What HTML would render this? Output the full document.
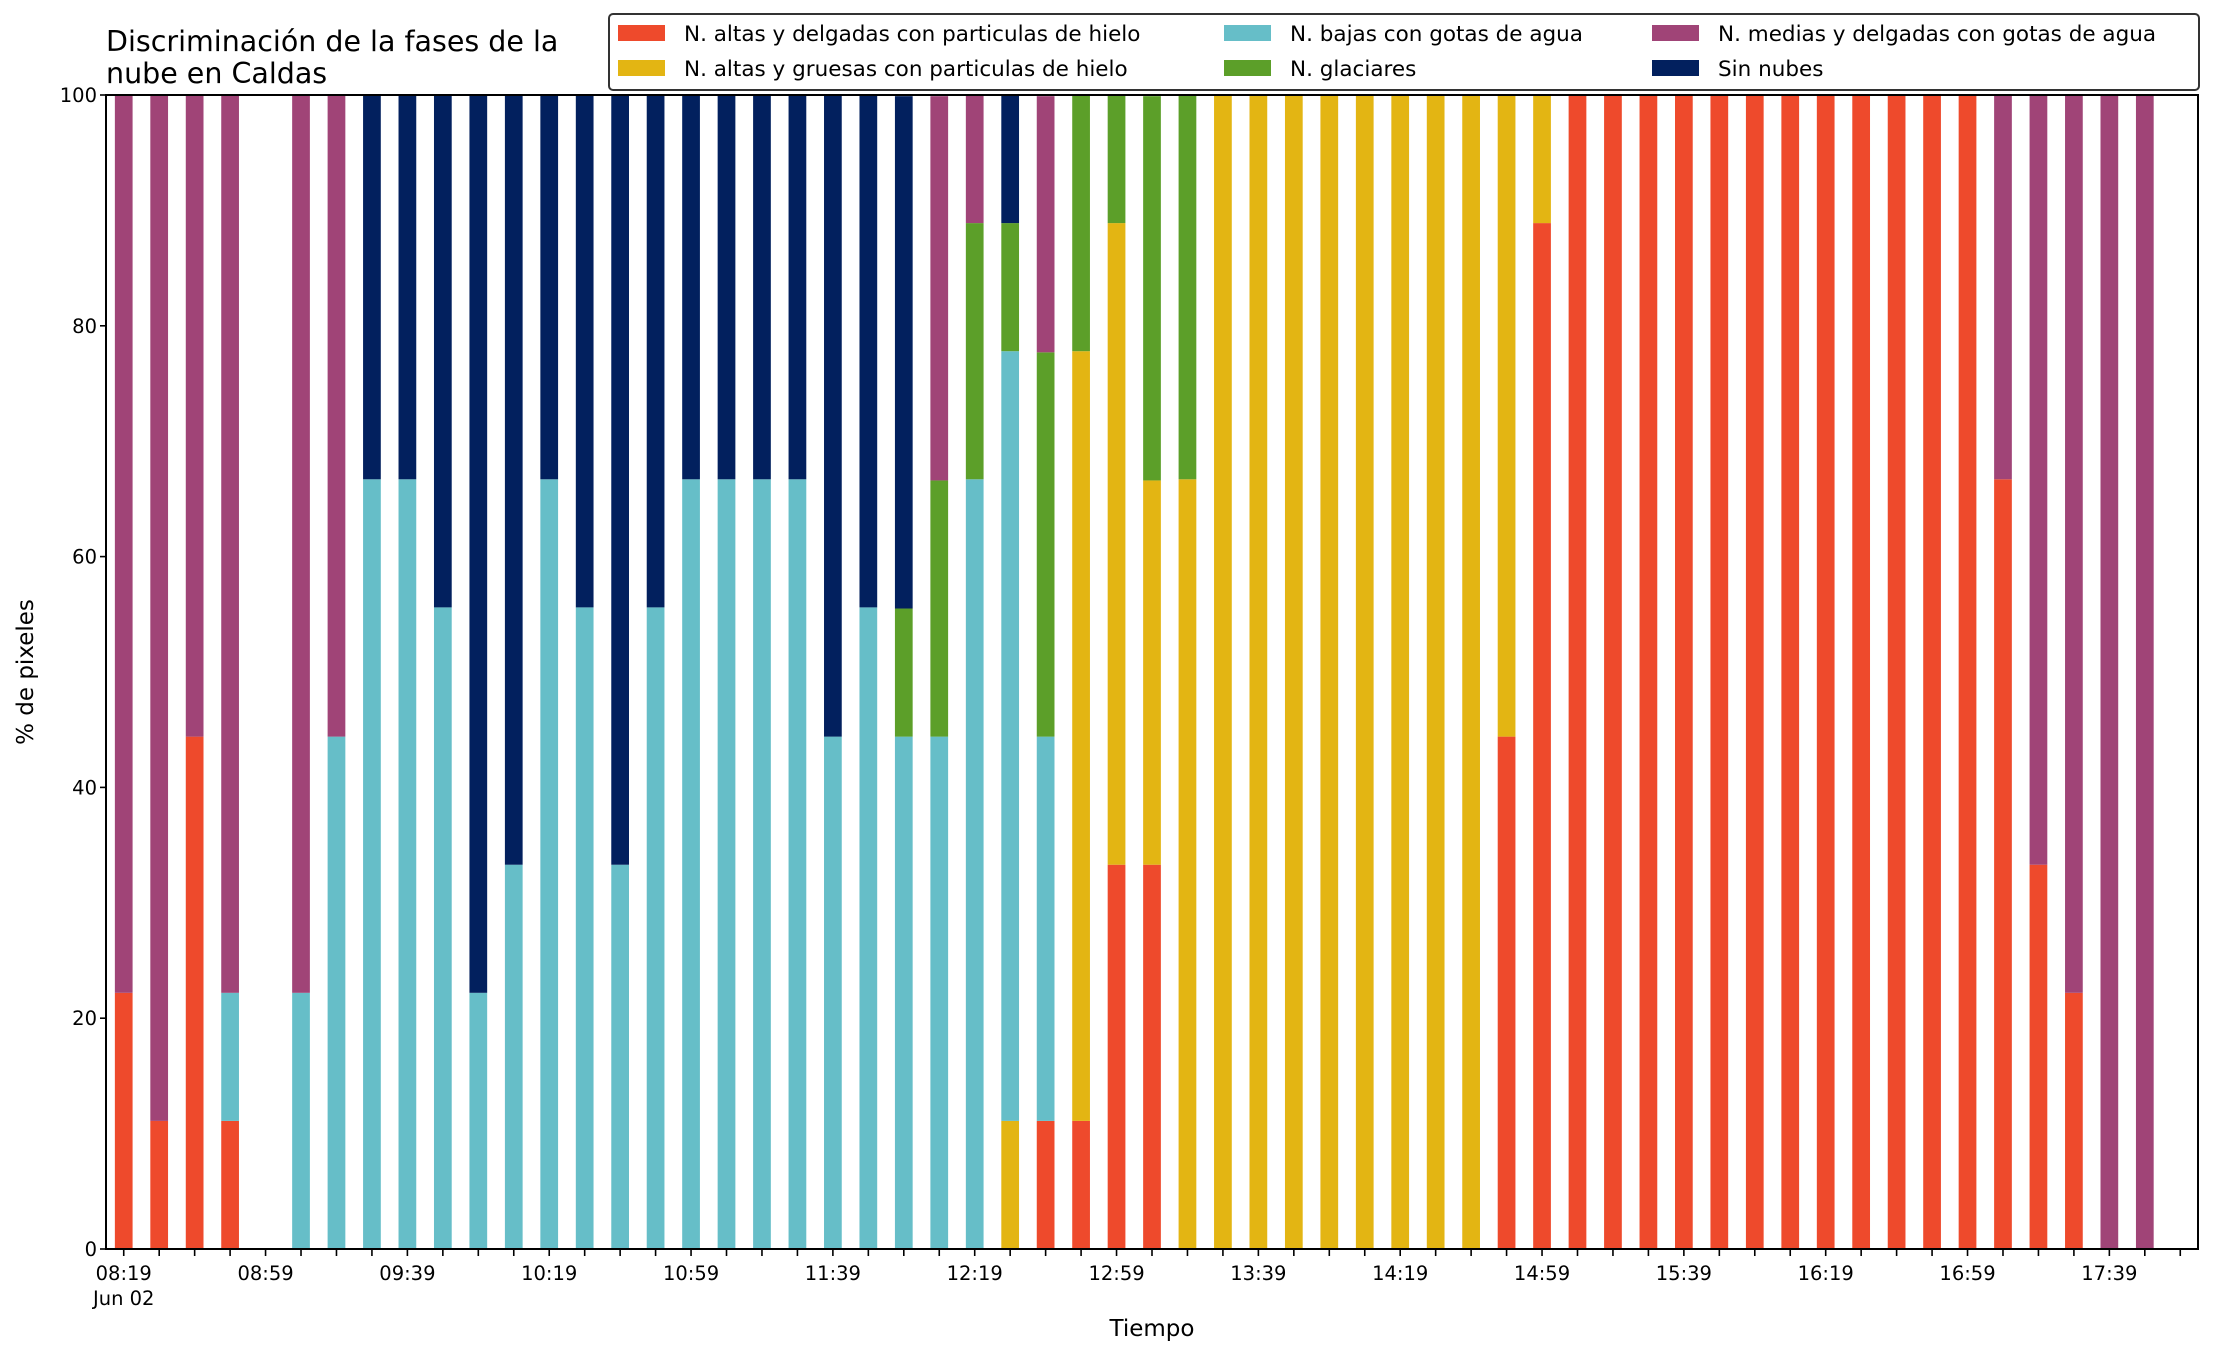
<!DOCTYPE html>
<html><head><meta charset="utf-8"><style>
body{margin:0;background:#fff}
svg{display:block;font-family:"DejaVu Sans","Liberation Sans",sans-serif}
</style></head><body>
<svg id="chart" width="2216" height="1355" viewBox="0 0 2216 1355" xmlns="http://www.w3.org/2000/svg">
<rect x="0" y="0" width="2216" height="1355" fill="#fff"/>
<text x="106" y="51" font-size="28.5" fill="#000">Discriminación de la fases de la</text>
<text x="106" y="83" font-size="28.5" fill="#000">nube en Caldas</text>
<g id="bars"></g>
<g id="axes"></g>
<rect x="106" y="95" width="2092" height="1154" fill="none" stroke="#000" stroke-width="2"/>
<text x="1152" y="1336" font-size="23" text-anchor="middle">Tiempo</text>
<text transform="translate(33,672) rotate(-90)" font-size="23" text-anchor="middle">% de pixeles</text>
<g id="legend">
<rect x="609" y="14" width="1590" height="76" rx="4" fill="#fff" stroke="#333" stroke-width="2"/>
</g>
</svg>
<script>
const categories = ["08:19","08:29","08:39","08:49","08:59","09:09","09:19","09:29","09:39","09:49","09:59","10:09","10:19","10:29","10:39","10:49","10:59","11:09","11:19","11:29","11:39","11:49","11:59","12:09","12:19","12:29","12:39","12:49","12:59","13:09","13:19","13:29","13:39","13:49","13:59","14:09","14:19","14:29","14:39","14:49","14:59","15:09","15:19","15:29","15:39","15:49","15:59","16:09","16:19","16:29","16:39","16:49","16:59","17:09","17:19","17:29","17:39","17:49","17:59"];
const seriesNames = ["N. altas y delgadas con particulas de hielo","N. altas y gruesas con particulas de hielo","N. bajas con gotas de agua","N. glaciares","N. medias y delgadas con gotas de agua","Sin nubes"];
const seriesColors = ["#ee4a2c","#e3b513","#66bec8","#5c9f29","#a04477","#02205e"];
const altasDelgadas = [22.2,11.1,44.4,11.1,0,0,0,0,0,0,0,0,0,0,0,0,0,0,0,0,0,0,0,0,0,0,11.1,11.1,33.3,33.3,0,0,0,0,0,0,0,0,0,44.4,88.9,100,100,100,100,100,100,100,100,100,100,100,100,66.7,33.3,22.2,0,0,0];
const altasGruesas = [0,0,0,0,0,0,0,0,0,0,0,0,0,0,0,0,0,0,0,0,0,0,0,0,0,11.1,0,66.7,55.6,33.3,66.7,100,100,100,100,100,100,100,100,55.6,11.1,0,0,0,0,0,0,0,0,0,0,0,0,0,0,0,0,0,0];
const bajasGotas = [0,0,0,11.1,0,22.2,44.4,66.7,66.7,55.6,22.2,33.3,66.7,55.6,33.3,55.6,66.7,66.7,66.7,66.7,44.4,55.6,44.4,44.4,66.7,66.7,33.3,0,0,0,0,0,0,0,0,0,0,0,0,0,0,0,0,0,0,0,0,0,0,0,0,0,0,0,0,0,0,0,0];
const glaciares = [0,0,0,0,0,0,0,0,0,0,0,0,0,0,0,0,0,0,0,0,0,0,11.1,22.2,22.2,11.1,33.3,22.2,11.1,33.3,33.3,0,0,0,0,0,0,0,0,0,0,0,0,0,0,0,0,0,0,0,0,0,0,0,0,0,0,0,0];
const mediasDelgadas = [77.8,88.9,55.6,77.8,0,77.8,55.6,0,0,0,0,0,0,0,0,0,0,0,0,0,0,0,0,33.3,11.1,0,22.2,0,0,0,0,0,0,0,0,0,0,0,0,0,0,0,0,0,0,0,0,0,0,0,0,0,0,33.3,66.7,77.8,100,100,0];
const sinNubes = [0,0,0,0,0,0,0,33.3,33.3,44.4,77.8,66.7,33.3,44.4,66.7,44.4,33.3,33.3,33.3,33.3,55.6,44.4,44.4,0,0,11.1,0,0,0,0,0,0,0,0,0,0,0,0,0,0,0,0,0,0,0,0,0,0,0,0,0,0,0,0,0,0,0,0,0];
const yTicks = [0,20,40,60,80,100];
const series = [altasDelgadas,altasGruesas,bajasGotas,glaciares,mediasDelgadas,sinNubes];

const NS="http://www.w3.org/2000/svg";
const X0=106,X1=2198,Y0=1249,Y1=95;
const n=categories.length;
const step=(X1-X0)/n;
function xPos(i){return X0+(i+0.5)*step;}
function yPos(v){return Y0-(v/100)*(Y0-Y1);}
const barW=step*0.5;
const bars=document.getElementById('bars');
for(let i=0;i<n;i++){
  let acc=0;
  for(let s=0;s<series.length;s++){
    const v=series[s][i]||0;
    if(v<=0)continue;
    const r=document.createElementNS(NS,'rect');
    
    
    r.setAttribute('x',xPos(i)-barW/2);
    r.setAttribute('y',yPos(acc+v));
    r.setAttribute('width',barW);
    r.setAttribute('height',yPos(acc)-yPos(acc+v));
    r.setAttribute('fill',seriesColors[s]);
    bars.appendChild(r);
    acc+=v;
  }
}
const axes=document.getElementById('axes');
function line(x1,y1,x2,y2){const l=document.createElementNS(NS,'line');l.setAttribute('x1',x1);l.setAttribute('y1',y1);l.setAttribute('x2',x2);l.setAttribute('y2',y2);l.setAttribute('stroke','#000');l.setAttribute('stroke-width','1.6');axes.appendChild(l);return l;}
function text(x,y,s,anchor,size){const t=document.createElementNS(NS,'text');t.setAttribute('x',x);t.setAttribute('y',y);t.setAttribute('text-anchor',anchor);t.setAttribute('font-size',size);t.textContent=s;axes.appendChild(t);return t;}
yTicks.forEach(v=>{
  const l=line(X0-6,yPos(v),X0,yPos(v));
  
  
  const t=text(X0-9,yPos(v)+7,String(v),'end',19.5);
  
  
});
for(let i=0;i<n;i++){
  const l=line(xPos(i),Y0,xPos(i),Y0+7);
  
  
  if(i%4===0){
    const t=text(xPos(i),1280,categories[i],'middle',19.5);
    
    
  }
}
const jt=text(xPos(0),1305,'Jun 02','middle',19.5);



const legend=document.getElementById('legend');
const lx=[618,1224,1652], ly=[25,60];
const order=[[0,0,0],[1,0,1],[2,1,0],[3,1,1],[4,2,0],[5,2,1]];
order.forEach(([s,c,r])=>{
  const g=document.createElementNS(NS,'g');
  
  
  const p=document.createElementNS(NS,'rect');
  p.setAttribute('x',lx[c]);p.setAttribute('y',ly[r]);p.setAttribute('width',47);p.setAttribute('height',16);p.setAttribute('fill',seriesColors[s]);
  g.appendChild(p);
  const t=document.createElementNS(NS,'text');
  t.setAttribute('x',lx[c]+66);t.setAttribute('y',ly[r]+16);t.setAttribute('font-size',21.5);
  t.textContent=seriesNames[s];
  g.appendChild(t);
  legend.appendChild(g);
});
</script>
</body></html>
